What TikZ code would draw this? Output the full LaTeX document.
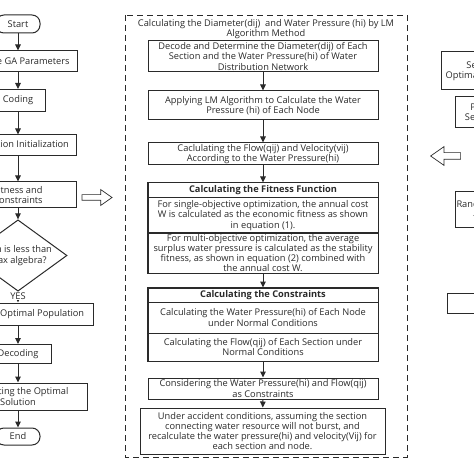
\documentclass[tikz,border=0pt]{standalone}
\usepackage{fontspec}
\setmainfont{Open Sans}
\usepackage{tikz}
\usetikzlibrary{shapes.geometric,shapes.arrows,arrows.meta}
\definecolor{inkgray}{HTML}{2A2A2A}

\begin{document}
\begin{tikzpicture}[
        x=1bp, y=-1bp,
        every node/.style={font=\fontsize{9.3}{10.3}\selectfont, text=inkgray},
        % Styles des nœuds
        procnode/.style={rectangle, draw=inkgray, line width=1bp, align=center, inner xsep=1bp, inner ysep=0.5bp},
        termnode/.style={rectangle, rounded corners=8bp, draw=inkgray, line width=1bp, minimum width=44bp, minimum height=18bp},
        decnode/.style={diamond, draw=inkgray, line width=1bp, minimum width=98bp, minimum height=56bp, align=center, inner sep=-4bp},
        headnode/.style={procnode, font=\fontsize{9.3}{10.3}\selectfont\bfseries},
        % Style des flèches
        flowarrow/.style={-{Triangle[length=6bp,width=5.5bp]}, line width=1bp, draw=inkgray},
        blockarrow/.style={single arrow, draw=inkgray, line width=0.7bp, inner xsep=0bp, minimum height=30bp, single arrow tip angle=70}
    ]

    \useasboundingbox (0,0) rectangle (474,474);
    \clip (0,0) rectangle (474,474);

    % Colonne gauche (algorithme génétique)
    \node[termnode] (start) at (18,24) {Start};
    \node[procnode, minimum width=118bp, minimum height=21bp] (param) at (18,61.5) {Initialize GA Parameters};
    \node[procnode, minimum width=54bp, minimum height=22bp] (coding) at (18,100.5) {Coding};
    \node[procnode, minimum width=116bp, minimum height=21bp] (init) at (18,145.5) {Population Initialization};
    \node[procnode, minimum width=116bp, minimum height=26bp] (fit) at (18,195) {Fitness and\\Constraints};
    \node[decnode] (test) at (18,255.5) {Gen is less than\\max algebra?};
    \node[procnode, minimum width=150bp, minimum height=22bp] (optpop) at (18,314) {Obtain the Optimal Population};
    \node[procnode, minimum width=66bp, minimum height=19bp] (decoding) at (18,354) {Decoding};
    \node[procnode, minimum width=138bp, minimum height=27bp] (output) at (18,396.5) {Outputting the Optimal\\Solution};
    \node[termnode, minimum height=17bp] (end) at (18,436.5) {End};

    \draw[flowarrow] (start) -- (param);
    \draw[flowarrow] (param) -- (coding);
    \draw[flowarrow] (coding) -- (init);
    \draw[flowarrow] (init) -- (fit);
    \draw[flowarrow] (fit) -- (test);
    \draw[flowarrow] (test) -- node[fill=white, inner sep=0.5bp, pos=0.4] {YES} (optpop);
    \draw[flowarrow] (optpop) -- (decoding);
    \draw[flowarrow] (decoding) -- (output);
    \draw[flowarrow] (output) -- (end);

    % Flèches creuses
    \node[blockarrow, inner ysep=2.5bp, minimum width=15bp, single arrow head extend=5bp] (toright) at (95,197.5) {};
    \node[blockarrow, inner ysep=3bp, minimum width=18bp, single arrow head extend=6bp, shape border rotate=180] (toleft) at (448,156) {};

    % Cadre central (méthode LM)
    \draw[draw=inkgray, line width=0.9bp, dash pattern=on 6bp off 4bp] (125,15) rectangle (407,457);
    \node[align=center] (lmtitle) at (266,29) {Calculating the Diameter(dij)\ \ and Water Pressure (hi) by LM\\Algorithm Method};

    \node[procnode, minimum width=230bp, minimum height=31bp] (decode) at (263,56.5) {Decode and Determine the Diameter(dij) of Each\\Section and the Water Pressure(hi) of Water\\Distribution Network};
    \node[procnode, minimum width=230bp, minimum height=29bp] (lmcalc) at (263,105.5) {Applying LM Algorithm to Calculate the Water\\Pressure (hi) of Each Node};
    \node[procnode, minimum width=230bp, minimum height=22bp] (flow) at (263,154) {Caclulating the Flow(qij) and Velocity(vij)\\According to the Water Pressure(hi)};

    % Fonction de fitness
    \node[headnode, minimum width=230bp, minimum height=15bp] (fithead) at (263,190.5) {Calculating the Fitness Function};
    \node[procnode, minimum width=230bp, minimum height=35bp] (single) at (263,215.5) {For single-objective optimization, the annual cost\\W is calculated as the economic fitness as shown\\in equation (1).};
    \node[procnode, inner ysep=0bp, minimum width=230bp, minimum height=40bp] (multi) at (263,253) {For multi-objective optimization, the average\\surplus water pressure is calculated as the stability\\fitness, as shown in equation (2) combined with\\the annual cost W.};
    \draw[draw=inkgray, line width=1.4bp] (fithead.north west) rectangle (multi.south east);

    % Contraintes
    \node[headnode, minimum width=230bp, minimum height=14bp] (conhead) at (263,295) {Calculating the Constraints};
    \node[procnode, minimum width=230bp, minimum height=31bp] (cpress) at (263,317.5) {Calculating the Water Pressure(hi) of Each Node\\under Normal Conditions};
    \node[procnode, minimum width=230bp, minimum height=28bp] (cflow) at (263,347) {Calculating the Flow(qij) of Each Section under\\Normal Conditions};
    \draw[draw=inkgray, line width=1.4bp] (conhead.north west) rectangle (cflow.south east);
    \node[procnode, minimum width=230bp, minimum height=21bp] (consider) at (263,388.5) {Considering the Water Pressure(hi) and Flow(qij)\\as Constraints};
    \node[procnode, minimum width=245bp, minimum height=46bp] (accident) at (262.5,431) {Under accident conditions, assuming the section\\connecting water resource will not burst, and\\recalculate the water pressure(hi) and velocity(Vij) for\\each section and node.};

    \draw[flowarrow] (decode) -- (lmcalc);
    \draw[flowarrow] (lmcalc) -- (flow);
    \draw[flowarrow] (flow) -- (fithead);
    \draw[flowarrow] (multi) -- (conhead);
    \draw[flowarrow] (cflow) -- (consider);
    \draw[flowarrow] (consider) -- (accident);

    % Colonne droite (opérateurs)
    \node[procnode, anchor=west, minimum width=92bp, minimum height=38bp] (select) at (441,71) {Select the\\Optimal Individuals};
    \node[procnode, anchor=west, minimum width=58bp, minimum height=31bp] (parent) at (455,112.5) {Parent\\Selection};
    \node[procnode, anchor=west, minimum width=76bp, minimum height=35bp] (random) at (455,209.5) {Random Crossover\\- One Point};
    \node[procnode, anchor=west, minimum width=120bp, minimum height=20bp] (mutation) at (447,303) {Mutation};

\end{tikzpicture}
\end{document}
